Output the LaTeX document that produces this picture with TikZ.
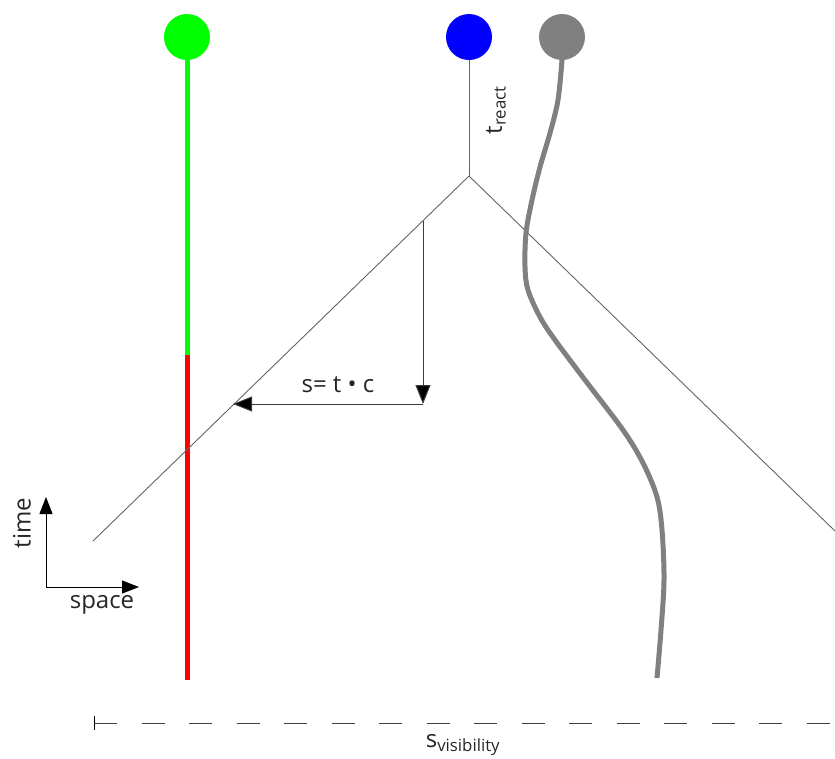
\documentclass[tikz,border=0pt]{standalone}
\usepackage{fontspec}
\setmainfont{Open Sans}
\usetikzlibrary{arrows.meta}
\definecolor{ballgreen}{RGB}{0,255,0}
\definecolor{ballblue}{RGB}{0,0,255}
\definecolor{ballgray}{RGB}{128,128,128}
\definecolor{linered}{RGB}{255,0,0}
\definecolor{thin}{RGB}{100,100,100}
\definecolor{arr}{RGB}{60,60,60}
\tikzset{
  ball/.style={circle, minimum size=46pt, inner sep=0pt, draw=none},
  thinline/.style={draw=thin, line width=0.9pt},
  arrline/.style={draw=arr, line width=1pt, -{Triangle[length=19pt,width=15pt,fill=black]}},
  axisline/.style={draw=black, line width=1pt, -{Triangle[length=17pt,width=13pt]}},
  lbl/.style={font=\fontsize{24}{28}\selectfont, text=black!85, inner sep=0pt},
}
\begin{document}
\begin{tikzpicture}[x=1pt,y=-1pt]
\useasboundingbox (0,0) rectangle (835,758);
% balls
\node[ball, fill=ballgreen] (g) at (187,37) {};
\node[ball, fill=ballblue] (b) at (469,37) {};
\node[ball, fill=ballgray] (k) at (562,37) {};
% green/red worldline
\coordinate (gswitch) at (187,355);
\coordinate (gend) at (187,680);
\draw[ballgreen, line width=5pt] (g.center) -- (gswitch);
\draw[linered, line width=5pt] (gswitch) -- (gend);
% blue reaction
\coordinate (apex) at (469,176);
\coordinate (leftend) at (93,541);
\coordinate (rightend) at (835,531);
\draw[thinline] (b.south) -- (apex);
\draw[thinline] (apex) -- (leftend);
\draw[thinline] (apex) -- (rightend);
\node[lbl, rotate=90] (treact) at (496,110) {t\textsubscript{react}};
% arrows
\coordinate (vtop) at (423,221);
\coordinate (corner) at (423,404);
\coordinate (hit) at (233,404);
\draw[arrline] (vtop) -- (corner);
\draw[arrline] (corner) -- (hit);
\node[lbl] (stc) at (338,385) {s= t \textbullet\ c};
% gray worldline
\draw[ballgray, line width=5pt] (k.center) -- (562,60)
  plot[smooth, tension=0.55] coordinates {(562,60) (558,100) (550,133) (540,167) (532,200) (526,233) (525,267) (528,290) (540,317) (555,340) (585,380) (623,430) (643,463) (657,497) (662,530) (664,580) (661,630) (657,678)};
% axes
\coordinate (origin) at (46,587);
\coordinate (tup) at (46,497);
\coordinate (sright) at (139,587);
\draw[axisline] (origin) -- (tup);
\draw[axisline] (origin) -- (sright);
\node[lbl, rotate=90] (time) at (22,523) {time};
\node[lbl] (space) at (102,605) {space};
% visibility
\coordinate (vstart) at (94,723);
\coordinate (vend) at (835,723);
\draw[black, line width=1pt] (94,716) -- (94,730);
\draw[black!75, line width=1pt, dash pattern=on 23pt off 24.5pt] (vstart) -- (vend);
\node[lbl] (svis) at (463,745) {s\textsubscript{visibility}};
\end{tikzpicture}
\end{document}
